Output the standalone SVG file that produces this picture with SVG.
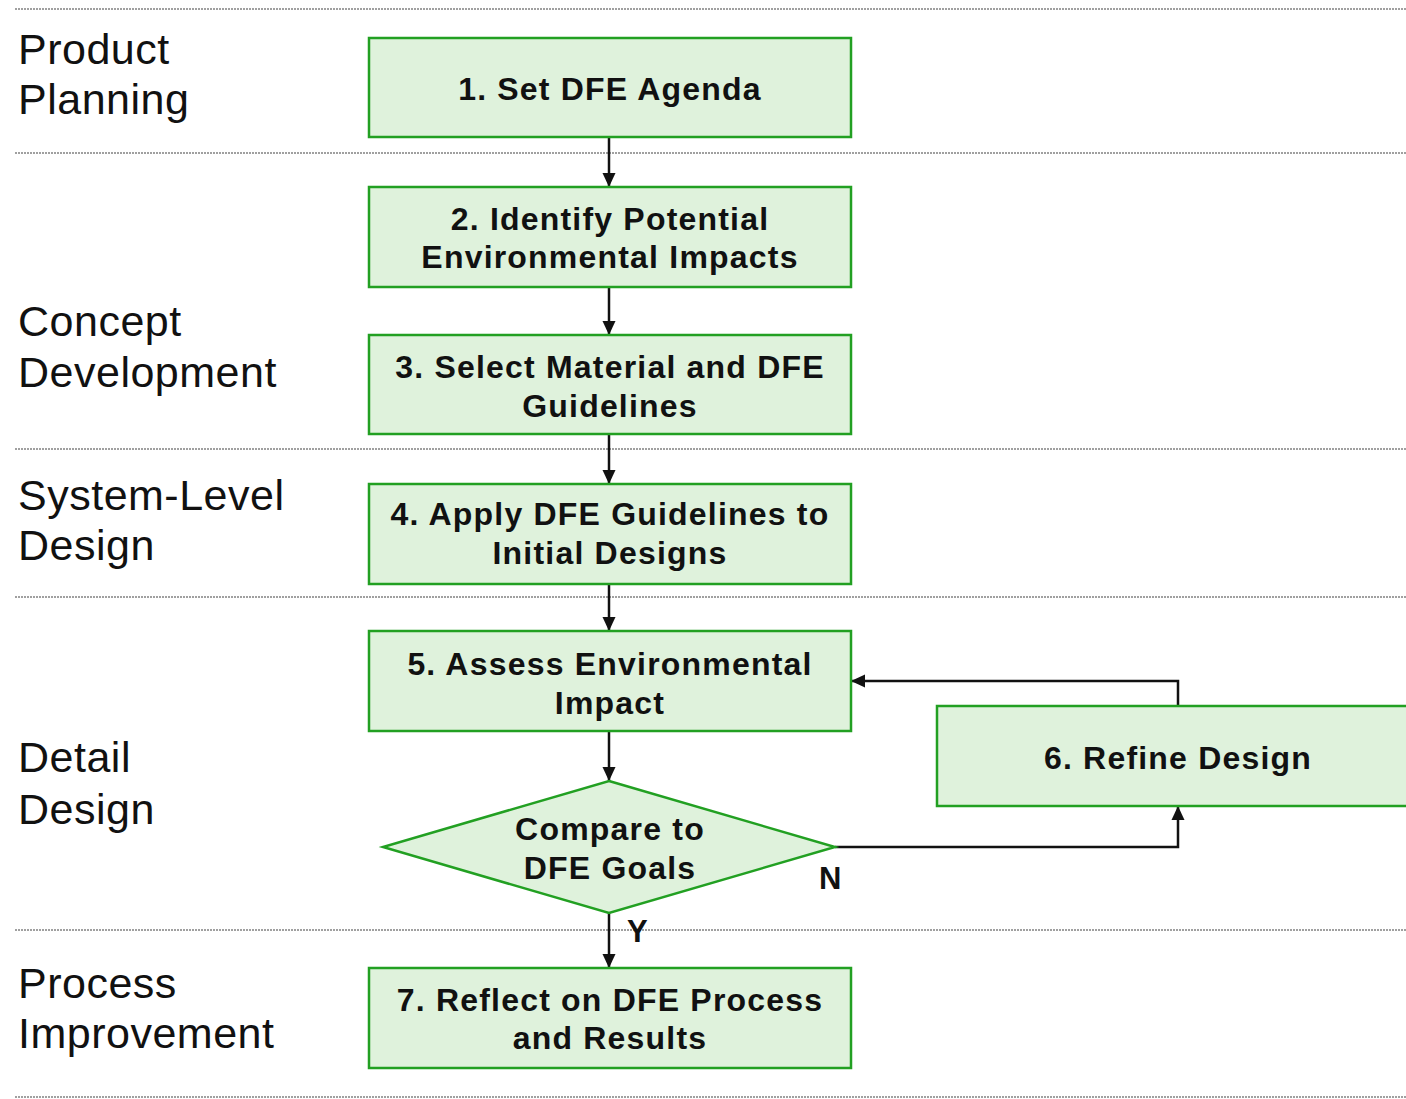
<svg xmlns="http://www.w3.org/2000/svg" width="1406" height="1099" viewBox="0 0 1406 1099">
  <defs>
    <marker id="arrow" viewBox="0 0 14 20" refX="14" refY="10" markerWidth="14" markerHeight="20" markerUnits="userSpaceOnUse" orient="auto">
      <path d="M0,3.5 L14,10 L0,16.5 Z" fill="#111"/>
    </marker>
    <style>
      .lane { stroke: #a0a0a0; stroke-width: 2; stroke-dasharray: 2 1; fill: none; }
      .phase { font-family: "Liberation Sans", Arial, sans-serif; font-size: 43px; letter-spacing: 0.5px; fill: #111; }
      .box { fill: #dff2dc; stroke: #22a022; stroke-width: 2.5; }
      .label { font-family: "Liberation Sans", Arial, sans-serif; font-size: 32px; font-weight: bold; letter-spacing: 1.2px; fill: #111; text-anchor: middle; }
      .yn { font-family: "Liberation Sans", Arial, sans-serif; font-size: 31px; font-weight: bold; fill: #111; }
      .edge { stroke: #111; stroke-width: 2.5; fill: none; marker-end: url(#arrow); }
    </style>
  </defs>

  <rect width="1406" height="1099" fill="#ffffff"/>

  <!-- phase separators -->
  <g id="lanes">
    <line class="lane" x1="15" y1="9" x2="1406" y2="9"/>
    <line class="lane" x1="15" y1="153" x2="1406" y2="153"/>
    <line class="lane" x1="15" y1="449" x2="1406" y2="449"/>
    <line class="lane" x1="15" y1="597" x2="1406" y2="597"/>
    <line class="lane" x1="15" y1="930" x2="1406" y2="930"/>
    <line class="lane" x1="15" y1="1097" x2="1406" y2="1097"/>
  </g>

  <!-- phase names -->
  <g id="phases">
    <text class="phase" x="18" y="64">Product</text>
    <text class="phase" x="18" y="114">Planning</text>
    <text class="phase" x="18" y="336">Concept</text>
    <text class="phase" x="18" y="387">Development</text>
    <text class="phase" x="18" y="510">System-Level</text>
    <text class="phase" x="18" y="560">Design</text>
    <text class="phase" x="18" y="772">Detail</text>
    <text class="phase" x="18" y="824">Design</text>
    <text class="phase" x="18" y="998">Process</text>
    <text class="phase" x="18" y="1048">Improvement</text>
  </g>

  <!-- connectors -->
  <g id="connectors">
    <line class="edge" x1="609" y1="137" x2="609" y2="187"/>
    <line class="edge" x1="609" y1="287" x2="609" y2="335"/>
    <line class="edge" x1="609" y1="434" x2="609" y2="484"/>
    <line class="edge" x1="609" y1="584" x2="609" y2="631"/>
    <line class="edge" x1="609" y1="731" x2="609" y2="781"/>
    <line class="edge" x1="609" y1="913" x2="609" y2="968"/>
    <polyline class="edge" points="835,847 1178,847 1178,806"/>
    <polyline class="edge" points="1178,706 1178,681 851,681"/>
    <text class="yn" x="627" y="942">Y</text>
    <text class="yn" x="819" y="889">N</text>
  </g>

  <g id="n1">
    <rect class="box" x="369" y="38" width="482" height="99"/>
    <text class="label" x="610" y="100">1. Set DFE Agenda</text>
  </g>
  <g id="n2">
    <rect class="box" x="369" y="187" width="482" height="100"/>
    <text class="label" x="610" y="230">2. Identify Potential</text>
    <text class="label" x="610" y="268">Environmental Impacts</text>
  </g>
  <g id="n3">
    <rect class="box" x="369" y="335" width="482" height="99"/>
    <text class="label" x="610" y="378">3. Select Material and DFE</text>
    <text class="label" x="610" y="417">Guidelines</text>
  </g>
  <g id="n4">
    <rect class="box" x="369" y="484" width="482" height="100"/>
    <text class="label" x="610" y="525">4. Apply DFE Guidelines to</text>
    <text class="label" x="610" y="564">Initial Designs</text>
  </g>
  <g id="n5">
    <rect class="box" x="369" y="631" width="482" height="100"/>
    <text class="label" x="610" y="675">5. Assess Environmental</text>
    <text class="label" x="610" y="714">Impact</text>
  </g>
  <g id="n6">
    <rect class="box" x="937" y="706" width="482" height="100"/>
    <text class="label" x="1178" y="769">6. Refine Design</text>
  </g>
  <g id="decision">
    <polygon class="box" points="609,781 835,847 609,913 383,847"/>
    <text class="label" x="610" y="840">Compare to</text>
    <text class="label" x="610" y="879">DFE Goals</text>
  </g>
  <g id="n7">
    <rect class="box" x="369" y="968" width="482" height="100"/>
    <text class="label" x="610" y="1011">7. Reflect on DFE Process</text>
    <text class="label" x="610" y="1049">and Results</text>
  </g>
</svg>
